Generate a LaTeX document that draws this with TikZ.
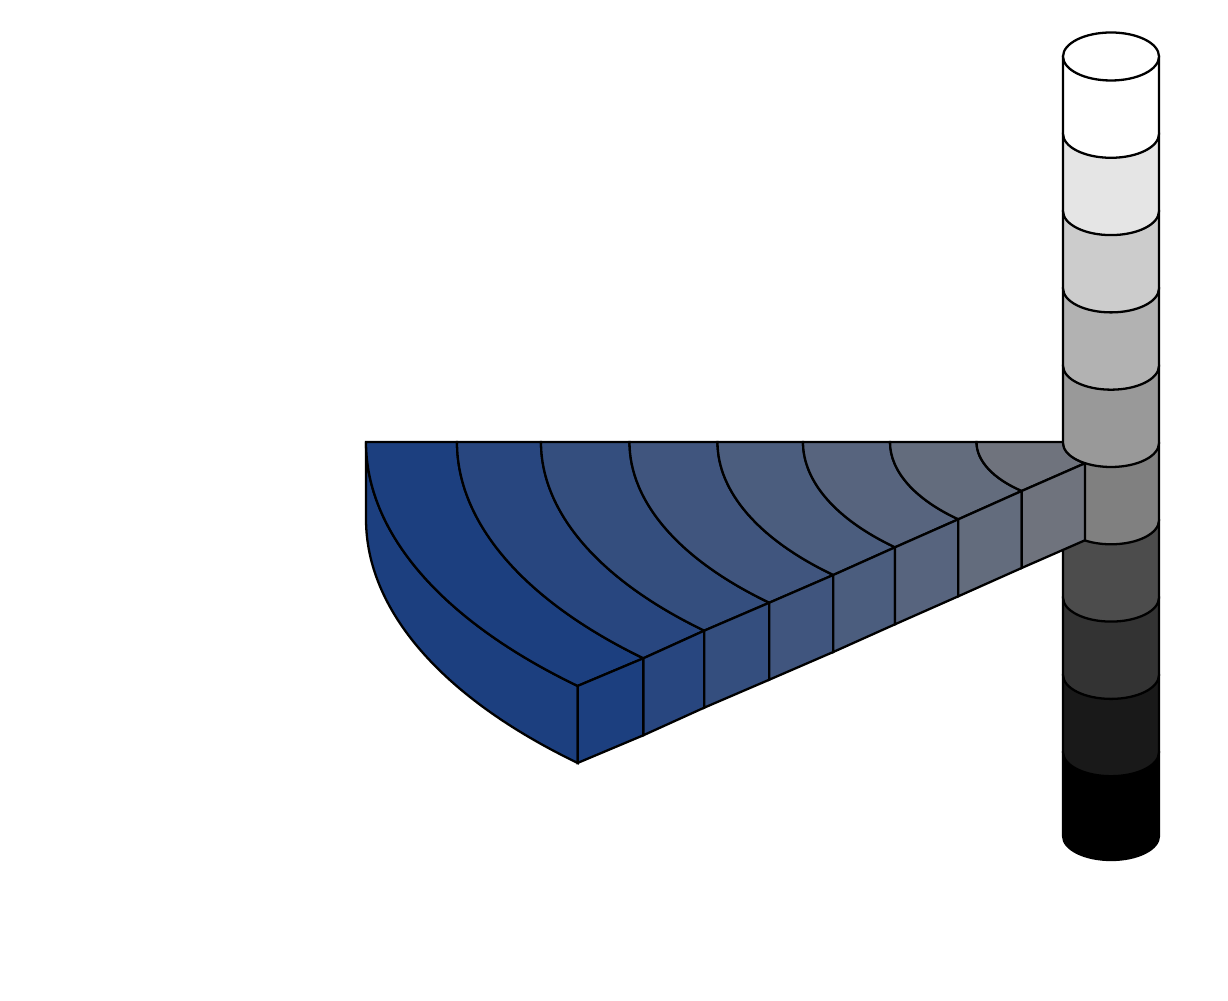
\documentclass[tikz,border=0pt]{standalone}
\usepackage{tikz}
\definecolor{slabblue}{RGB}{28,63,127}
\definecolor{slabgray}{RGB}{111,115,125}
\begin{document}
\begin{tikzpicture}[x=0.01cm,y=0.01cm,
  face/.style={draw=black,line width=0.65pt}]
\useasboundingbox (0,0) rectangle (1228,1000);

% Lower part of the column
\foreach \ytop/\ybot/\g in {247.8/164/0,325.1/247.8/10,402.4/325.1/20,479.7/402.4/30,557/479.7/50}
  \filldraw[face,fill=white!\g!black] (1063,\ytop) -- (1063,\ybot)
    arc[start angle=180,end angle=360,x radius=48,y radius=24] -- (1159,\ytop) -- cycle;

% Outer rim of the slab
\filldraw[face,fill=slabblue] (366,558)
  arc[start angle=180,end angle=224.28,x radius=745,y radius=349.4] -- ++(0,-77)
  arc[start angle=224.28,end angle=180,x radius=745,y radius=349.4] -- cycle;

% Rings: top face and front face
\foreach \ra/\ba/\ta/\rb/\bb/\tb/\p in {745/349.4/44.28/654/309.4/44.35/0,
    654/309.4/44.35/570/269.3/44.47/14, 570/269.3/44.47/481.5/228.1/44.79/29,
    481.5/228.1/44.79/393.5/187.7/45.11/43, 393.5/187.7/45.11/308/147.7/45.47/57,
    308/147.7/45.47/221/106.9/46.30/71, 221/106.9/46.30/134.5/65.5/48.40/86,
    134.5/65.5/48.40/48/25.3/57.2/100}{
  \filldraw[face,fill=slabgray!\p!slabblue] ({1111-\ra},558)
    arc[start angle=180,end angle={180+\ta},x radius=\ra,y radius=\ba]
    -- ({1111-\rb*cos(\tb)},{558-\bb*sin(\tb)})
    arc[start angle={180+\tb},end angle=180,x radius=\rb,y radius=\bb] -- cycle;
  \filldraw[face,fill=slabgray!\p!slabblue] ({1111-\ra*cos(\ta)},{558-\ba*sin(\ta)})
    -- ({1111-\rb*cos(\tb)},{558-\bb*sin(\tb)}) -- ++(0,-77)
    -- ({1111-\ra*cos(\ta)},{481-\ba*sin(\ta)}) -- cycle;
}

% Upper part of the column
\foreach \ytop/\ybot/\g in {634.3/557/60,711.6/634.3/70,788.9/711.6/80,866.2/788.9/90,943.5/866.2/100}
  \filldraw[face,fill=white!\g!black] (1063,\ytop) -- (1063,\ybot)
    arc[start angle=180,end angle=360,x radius=48,y radius=24] -- (1159,\ytop) -- cycle;
\filldraw[face,fill=white] (1111,943.5) ellipse[x radius=48,y radius=24];
\end{tikzpicture}
\end{document}
